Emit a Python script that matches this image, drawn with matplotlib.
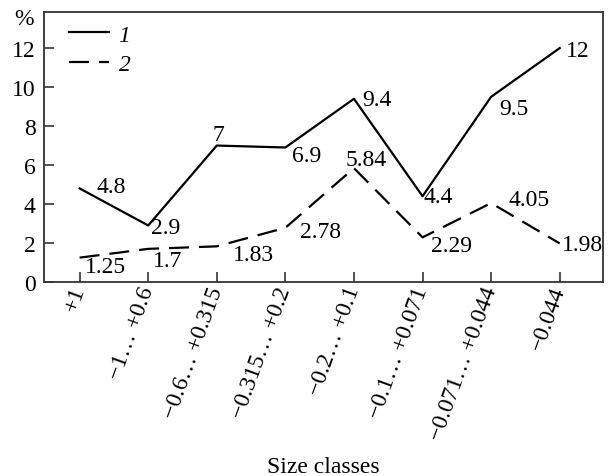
import matplotlib
matplotlib.use("Agg")
import matplotlib.pyplot as plt
from matplotlib.transforms import ScaledTranslation

plt.rcParams['font.family'] = ['Liberation Serif', 'DejaVu Serif']

# Size classes (mm) and yields (%)
categories = ["+1", "\u22121\u2026 +0.6", "\u22120.6\u2026 +0.315", "\u22120.315\u2026 +0.2",
              "\u22120.2\u2026 +0.1", "\u22120.1\u2026 +0.071", "\u22120.071\u2026 +0.044", "\u22120.044"]
series1 = [4.8, 2.9, 7, 6.9, 9.4, 4.4, 9.5, 12]
series2 = [1.25, 1.7, 1.83, 2.78, 5.84, 2.29, 4.05, 1.98]
series_names = ["1", "2"]
yticks = [0, 2, 4, 6, 8, 10, 12]

# label offsets in pixels (dx, dy, ha)
offsets1 = [(17, 2, 'left'), (3, -2, 'left'), (2, 11, 'center'), (7, -8, 'left'),
            (8, -1, 'left'), (1, 0, 'left'), (8, -12, 'left'), (6, -2, 'left')]
offsets2 = [(5, -9, 'left'), (5, -12, 'left'), (16, -8, 'left'), (15, -4, 'left'),
            (12, 9, 'center'), (8, -8, 'left'), (17, 4, 'left'), (2, -1, 'left')]

fs = 17
fig = plt.figure(figsize=(6.09, 4.77), dpi=100)
ax = fig.add_axes([0.0722, 0.4067, 0.9178, 0.566])

x = list(range(len(categories)))
ax.plot(x, series1, color='black', lw=1.6, label=series_names[0])
ax.plot(x, series2, color='black', lw=1.6, dashes=(9, 4.5), label=series_names[1])

for xi, v, (dx, dy, ha) in zip(x, series1, offsets1):
    ax.annotate(f"{v:g}", (xi, v), xytext=(dx, dy), textcoords='offset pixels',
                ha=ha, va='center', fontsize=fs)
for xi, v, (dx, dy, ha) in zip(x, series2, offsets2):
    ax.annotate(f"{v:g}", (xi, v), xytext=(dx, dy), textcoords='offset pixels',
                ha=ha, va='center', fontsize=fs)

ax.set_xlim(-0.52, 7.63)
ax.set_ylim(0, 13.85)
ax.set_yticks(yticks)
ax.set_yticklabels([str(t) for t in yticks], fontsize=fs)
ax.set_xticks(x)
ax.set_xticklabels(categories, fontsize=fs, rotation=70, ha='right', va='center',
                   rotation_mode='anchor')
for lab in ax.get_xticklabels():
    lab.set_transform(lab.get_transform() + ScaledTranslation(0.12, -0.07, fig.dpi_scale_trans))

ax.tick_params(axis='both', direction='in', length=7, width=1.2, color='#333333')
ax.tick_params(axis='y', pad=6)
for sp in ax.spines.values():
    sp.set_linewidth(1.3)
    sp.set_color('#333333')

ax.set_xlabel("Size classes", fontsize=fs, labelpad=10)
ax.text(-0.018, 0.975, "%", transform=ax.transAxes, fontsize=fs, ha='right', va='center')

leg = ax.legend(loc='upper left', bbox_to_anchor=(0.028, 0.99), borderaxespad=0,
                frameon=False, handlelength=1.7, handletextpad=0.4,
                labelspacing=0.35, prop={'size': fs, 'style': 'italic'})

fig.savefig("out.png", dpi=100)
